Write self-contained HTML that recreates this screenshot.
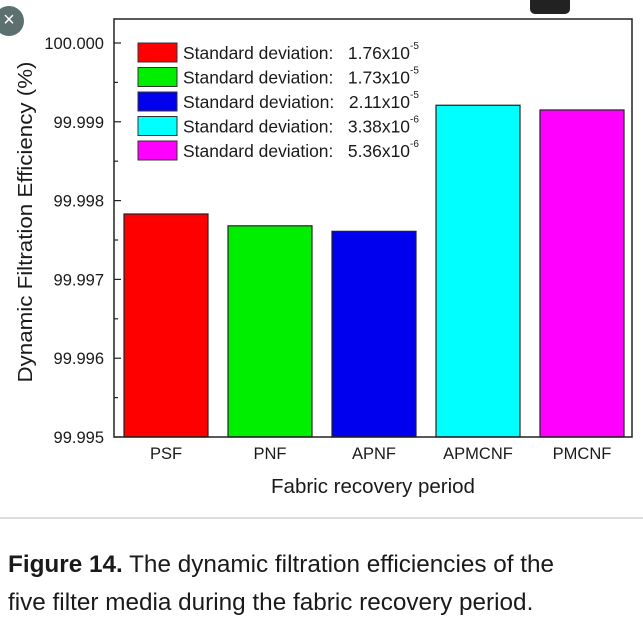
<!DOCTYPE html>
<html><head><meta charset="utf-8"><style>
body{margin:0;background:#fff;width:643px;height:621px;overflow:hidden;font-family:"Liberation Sans",sans-serif;position:relative}
.cap{position:absolute;left:8px;font-size:24.3px;color:#1a1a1a;white-space:nowrap}
</style></head><body>
<svg width="643" height="621" style="position:absolute;left:0;top:0">
<g id="plot"></g>
</svg>
<div style="position:absolute;left:-6px;top:6px;width:30px;height:30px;border-radius:50%;background:#5d7070;color:#fff;font-size:20px;line-height:28px;text-align:center">×</div>
<div style="position:absolute;left:530px;top:-8px;width:40px;height:22px;border-radius:5px;background:#222"></div>
<div style="position:absolute;left:0;top:517px;width:643px;height:2px;background:#ddd"></div>
<div class="cap" style="top:551px"><b>Figure 14.</b> The dynamic filtration efficiencies of the</div>
<div class="cap" style="top:589px">five filter media during the fabric recovery period.</div>
<script>
const categories=["PSF","PNF","APNF","APMCNF","PMCNF"];
const values=[99.99783,99.99768,99.99761,99.99921,99.99915];
const colors=["#ff0000","#00ee00","#0000ee","#00ffff","#ff00ff"];
const yTicks=[99.995,99.996,99.997,99.998,99.999,100.000];
const legendLabels=["1.76x10","1.73x10","2.11x10","3.38x10","5.36x10"];
const legendExps=["-5","-5","-5","-6","-6"];
const NS="http://www.w3.org/2000/svg";
const g=document.getElementById('plot');
const L=114,R=632,T=19,B=437;
const y=v=>B-(v-99.995)/0.001*78.8;
const x=i=>L+10+i*104;
function mk(t,a,txt){const e=document.createElementNS(NS,t);for(const k in a)e.setAttribute(k,a[k]);if(txt!=null)e.textContent=txt;g.appendChild(e);return e;}
values.forEach((v,i)=>{
 const r=mk('rect',{x:x(i),y:y(v),width:84,height:B-y(v),fill:colors[i],stroke:'#222','stroke-width':1.2});
 
 
 const t=mk('text',{x:x(i)+42,y:459,'text-anchor':'middle','font-size':16.5,fill:'#1a1a1a'},categories[i]);
 
 
});
const f=mk('rect',{x:L,y:T,width:R-L,height:B-T,fill:'none',stroke:'#222','stroke-width':1.5});


yTicks.forEach((v,i)=>{
 mk('line',{x1:L,x2:L+7,y1:y(v),y2:y(v),stroke:'#222','stroke-width':1.2});
 if(i<yTicks.length-1){const m=y(v+0.0005);mk('line',{x1:L,x2:L+4,y1:m,y2:m,stroke:'#222','stroke-width':1.2});}
 const t=mk('text',{x:L-10,y:y(v)+6,'text-anchor':'end','font-size':16.5,fill:'#1a1a1a'},v.toFixed(3));
 
 
});
const yt=mk('text',{x:0,y:0,transform:'translate(32,222) rotate(-90)','text-anchor':'middle','font-size':20,fill:'#1a1a1a',textLength:321,lengthAdjust:'spacingAndGlyphs'},'Dynamic Filtration Efficiency (%)');


const xt=mk('text',{x:373,y:493,'text-anchor':'middle','font-size':20.5,fill:'#1a1a1a'},'Fabric recovery period');


legendLabels.forEach((l,i)=>{
 const yy=43+i*24.5;
 const s=mk('rect',{x:138,y:yy,width:39,height:19,fill:colors[i],stroke:'#333','stroke-width':1});
 
 
 const t=mk('text',{x:183,y:yy+16,'font-size':17.5,fill:'#1a1a1a',textLength:227,lengthAdjust:'spacingAndGlyphs'},'Standard deviation:\u00a0\u00a0 '+l);
 
 
 const e=mk('text',{x:410,y:yy+6,'font-size':10,fill:'#1a1a1a'},legendExps[i]);
 
 
});
</script>
</body></html>
